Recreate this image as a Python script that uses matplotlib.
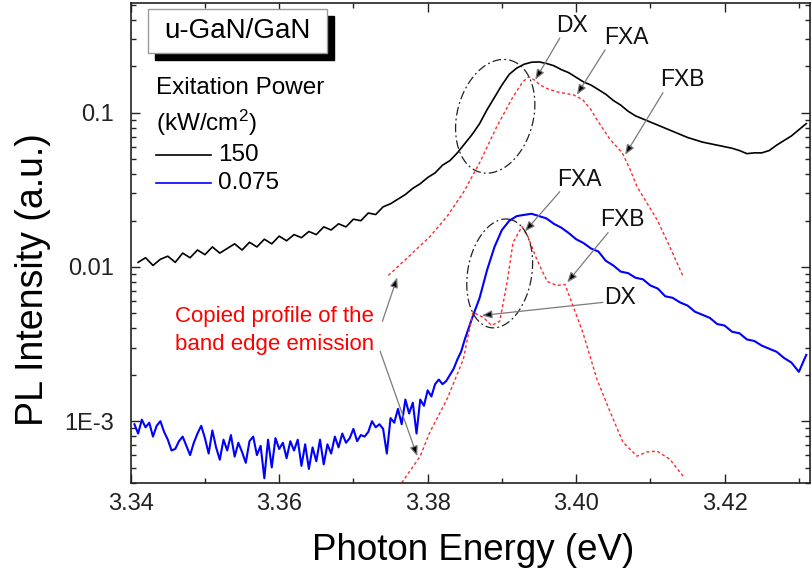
import numpy as np
import matplotlib
matplotlib.use('Agg')
import matplotlib.pyplot as plt
from matplotlib.ticker import MultipleLocator, LogLocator, FuncFormatter, NullFormatter
from matplotlib.patches import Rectangle

plt.rcParams['font.family'] = ['Liberation Sans', 'DejaVu Sans']
plt.rcParams['mathtext.fontset'] = 'custom'
plt.rcParams['mathtext.rm'] = 'Liberation Sans'
plt.rcParams['mathtext.it'] = 'Liberation Sans:italic'

# ---------------- data ----------------
# 150 kW/cm2 spectrum: energy (eV) and log10(PL intensity)
energy_150 = np.round(np.linspace(3.341, 3.431, 91), 4)
log_pl_150 = [
    -1.97, -1.94, -1.99, -1.95, -1.93, -1.97, -1.91, -1.94, -1.89, -1.92,
    -1.87, -1.91, -1.88, -1.85, -1.89, -1.84, -1.87, -1.82, -1.85, -1.80,
    -1.83, -1.79, -1.81, -1.77, -1.79, -1.74, -1.76, -1.72, -1.74, -1.69,
    -1.70, -1.65, -1.66, -1.61, -1.59, -1.56, -1.53, -1.49, -1.46, -1.42,
    -1.39, -1.34, -1.31, -1.26, -1.20, -1.14, -1.07, -0.98, -0.90, -0.82,
    -0.75, -0.71, -0.685, -0.672, -0.670, -0.680, -0.695, -0.72, -0.74, -0.77,
    -0.80, -0.82, -0.85, -0.88, -0.92, -0.95, -0.99, -1.02, -1.04, -1.06,
    -1.08, -1.10, -1.12, -1.14, -1.16, -1.175, -1.19, -1.20, -1.21, -1.22,
    -1.23, -1.245, -1.265, -1.26, -1.26, -1.245, -1.21, -1.18, -1.15, -1.11,
    -1.07]

# 0.075 kW/cm2 spectrum
energy_075 = np.concatenate([np.round(np.linspace(3.3405, 3.3845, 89), 4),
                             np.round(np.linspace(3.385, 3.431, 47), 4)])
log_pl_075 = [
    -3.02, -3.08, -2.99, -3.04, -3.01, -3.10, -3.03, -3.00, -3.07, -3.12,
    -3.19, -3.18, -3.13, -3.10, -3.16, -3.22, -3.14, -3.08, -3.03, -3.11,
    -3.21, -3.06, -3.17, -3.25, -3.12, -3.19, -3.09, -3.23, -3.14, -3.20,
    -3.27, -3.13, -3.10, -3.22, -3.16, -3.37, -3.12, -3.30, -3.11, -3.18,
    -3.14, -3.24, -3.13, -3.19, -3.12, -3.29, -3.15, -3.31, -3.17, -3.26,
    -3.12, -3.28, -3.15, -3.21, -3.10, -3.17, -3.08, -3.14, -3.11, -3.05,
    -3.13, -3.09, -3.10, -3.07, -3.00, -3.04, -3.02, -3.05, -3.21, -2.98,
    -3.01, -2.92, -3.02, -2.86, -2.95, -2.88, -3.08, -2.86, -2.90, -2.80,
    -2.84, -2.76, -2.73, -2.76, -2.74, -2.70, -2.66, -2.60, -2.55,
    -2.47, -2.33, -2.20, -2.02, -1.87, -1.76, -1.70, -1.67, -1.662, -1.655,
    -1.670, -1.685, -1.72, -1.745, -1.78, -1.82, -1.845, -1.88, -1.90, -1.96,
    -1.99, -2.03, -2.04, -2.07, -2.08, -2.12, -2.14, -2.19, -2.20, -2.23,
    -2.25, -2.29, -2.31, -2.33, -2.37, -2.38, -2.42, -2.43, -2.47, -2.48,
    -2.51, -2.53, -2.55, -2.59, -2.62, -2.68, -2.57]

# copied band-edge profile (red dotted), upper copy
energy_copy_hi = [3.3747, 3.3775, 3.3803, 3.3826, 3.3848, 3.3870, 3.3893, 3.3915,
                  3.3928, 3.3936, 3.3945, 3.3951, 3.3962, 3.3974, 3.3986, 3.3996,
                  3.4009, 3.4020, 3.4028, 3.4046, 3.4062, 3.4072, 3.4082, 3.4096,
                  3.4109, 3.4126, 3.4144]
log_copy_hi = [-2.055, -1.93, -1.803, -1.673, -1.518, -1.324, -1.091, -0.896,
               -0.80, -0.767, -0.79, -0.819, -0.845, -0.864, -0.875, -0.883,
               -0.916, -0.98, -1.045, -1.175, -1.259, -1.36, -1.479, -1.59,
               -1.693, -1.867, -2.061]

# lower copy
energy_copy_lo = [3.3765, 3.3790, 3.3803, 3.3826, 3.3848, 3.3861, 3.3875, 3.3886,
                  3.3897, 3.3907, 3.3915, 3.3927, 3.3935, 3.3947, 3.3961, 3.3974,
                  3.3985, 3.3996, 3.4009, 3.4028, 3.4046, 3.4063, 3.4082, 3.4095,
                  3.4109, 3.4126, 3.4144]
log_copy_lo = [-3.40, -3.227, -3.071, -2.858, -2.599, -2.294, -2.327, -2.379,
               -2.353, -2.100, -1.841, -1.738, -1.803, -1.951, -2.094, -2.120,
               -2.113, -2.256, -2.424, -2.728, -2.942, -3.136, -3.227, -3.20,
               -3.194, -3.246, -3.356]

series_labels = ['150', '0.075']
y_tick_labels = {0.1: '0.1', 0.01: '0.01', 0.001: '1E-3'}

# ---------------- figure ----------------
W, H = 811, 581
fig = plt.figure(figsize=(W / 100, H / 100), dpi=100)
ax_l, ax_r, ax_t, ax_b = 130.7, 810.0, 3.0, 483.0
ax = fig.add_axes([ax_l / W, (H - ax_b) / H, (ax_r - ax_l) / W, (ax_b - ax_t) / H])
ax.set_yscale('log')
ax.set_xlim(3.34, 3.4315)
ax.set_ylim(10 ** -3.401, 10 ** -0.288)

ax.xaxis.set_major_locator(MultipleLocator(0.02))
ax.xaxis.set_minor_locator(MultipleLocator(0.01))
ax.xaxis.set_major_formatter(FuncFormatter(lambda v, p: f'{v:.2f}'))
ax.yaxis.set_major_locator(LogLocator(base=10, numticks=10))
ax.yaxis.set_minor_locator(LogLocator(base=10, subs=np.arange(2, 10), numticks=20))
ax.yaxis.set_minor_formatter(NullFormatter())


def ylab(v, p):
    for k, s in y_tick_labels.items():
        if abs(np.log10(v) - np.log10(k)) < 1e-6:
            return s
    return ''


ax.yaxis.set_major_formatter(FuncFormatter(ylab))
ax.tick_params(which='both', direction='in', top=True, right=True,
               labelsize=17, colors='#222222', width=1.0)
ax.tick_params(which='major', length=6.5)
ax.tick_params(which='minor', length=3.5)
ax.tick_params(axis='x', pad=7)
ax.tick_params(axis='y', pad=12)
for s in ax.spines.values():
    s.set_linewidth(1.2)
    s.set_color('#222222')

ax.plot(energy_150, 10 ** np.array(log_pl_150), color='black', lw=1.2)
ax.plot(energy_075, 10 ** np.array(log_pl_075), color='#0000ff', lw=1.5)
red_ls = (0, (2.2, 1.8))
ax.plot(energy_copy_hi, 10 ** np.array(log_copy_hi), color='#ff2a2a', lw=1.0, ls=red_ls)
ax.plot(energy_copy_lo, 10 ** np.array(log_copy_lo), color='#ff2a2a', lw=1.0, ls=red_ls)


# tilted dash-dot ellipses (size in pixels, centre in data coords)
def tilted_ellipse(ce, ci, a_px, b_px, tilt_deg):
    cx, cy = ax.transData.transform((ce, ci))
    t = np.linspace(0, 2 * np.pi, 300)
    th = np.deg2rad(tilt_deg)
    u = a_px * np.cos(t)
    v = b_px * np.sin(t)
    px = cx + u * np.sin(th) + v * np.cos(th)
    py = cy + u * np.cos(th) - v * np.sin(th)
    d = ax.transData.inverted().transform(np.column_stack([px, py]))
    ax.plot(d[:, 0], d[:, 1], color='#222222', lw=0.9, ls=(0, (7, 2.5, 1.5, 2.5)))


tilted_ellipse(3.3891, 0.0949, 58, 38, 15)
tilted_ellipse(3.3897, 9.08e-3, 55, 32, 10)

# annotations
arrow_kw = dict(arrowstyle='-|>,head_length=0.5,head_width=0.2', ec='#7a7a7a',
                fc='black', lw=0.9, shrinkA=0, shrinkB=0, mutation_scale=12)
notes = [
    ('DX', (3.3994, 0.366), (3.3978, 0.305), (3.3945, 0.164)),
    ('FXA', (3.4068, 0.310), (3.4039, 0.256), (3.4001, 0.131)),
    ('FXB', (3.4143, 0.164), (3.4117, 0.135), (3.4066, 0.0534)),
    ('FXA', (3.4004, 0.0368), (3.3978, 0.0308), (3.3931, 0.0170)),
    ('FXB', (3.4062, 0.0203), (3.4043, 0.0167), (3.3988, 0.00794)),
    ('DX', (3.4059, 6.35e-3), (3.4036, 5.89e-3), (3.3873, 4.85e-3)),
]
for txt, tpos, tail, head in notes:
    ax.text(tpos[0], tpos[1], txt, fontsize=16.5, ha='center', va='center', color='#111111')
    ax.annotate('', xy=head, xytext=tail, arrowprops=arrow_kw)

ax.text(3.346, 4.79e-3, 'Copied profile of the', color='#ff0000', fontsize=16,
        ha='left', va='center')
ax.text(3.346, 3.16e-3, 'band edge emission', color='#ff0000', fontsize=16,
        ha='left', va='center')
ax.annotate('', xy=(3.3759, 8.55e-3), xytext=(3.3739, 4.44e-3), arrowprops=arrow_kw)
ax.annotate('', xy=(3.3786, 5.93e-4), xytext=(3.3736, 2.84e-3), arrowprops=arrow_kw)

# sample box with shadow
bx0, bx1, by0, by1 = 0.0255, 0.289, 0.8958, 0.9875
ax.add_patch(Rectangle((bx0 + 0.0103, by0 - 0.0146), bx1 - bx0, by1 - by0,
                       transform=ax.transAxes, facecolor='black', edgecolor='black', zorder=5))
ax.add_patch(Rectangle((bx0, by0), bx1 - bx0, by1 - by0, transform=ax.transAxes,
                       facecolor='white', edgecolor='#9a9a9a', lw=1.0, zorder=6))
ax.text((bx0 + bx1) / 2, (by0 + by1) / 2, 'u-GaN/GaN', transform=ax.transAxes,
        fontsize=20, ha='center', va='center', zorder=7)

# legend block
ax.text(0.0372, 0.823, 'Exitation Power', transform=ax.transAxes, fontsize=17.5,
        ha='left', va='center')
ax.text(0.0372, 0.750, '(kW/cm$^2$)', transform=ax.transAxes, fontsize=17.5,
        ha='left', va='center')
for lab, col, yy in zip(series_labels, ['black', '#0000ff'], [0.683, 0.625]):
    ax.plot([0.0372, 0.118], [yy, yy], transform=ax.transAxes, color=col, lw=1.2)
    ax.text(0.1285, yy, lab, transform=ax.transAxes, fontsize=17.5, ha='left', va='center')

# axis titles
fig.text(473 / W, 1 - 550 / H, 'Photon Energy (eV)', fontsize=26.5, ha='center', va='center')
fig.text(33 / W, 1 - 280 / H, 'PL Intensity (a.u.)', fontsize=27, ha='center', va='center',
         rotation=90)

fig.savefig('out.png', dpi=100, facecolor='white')
